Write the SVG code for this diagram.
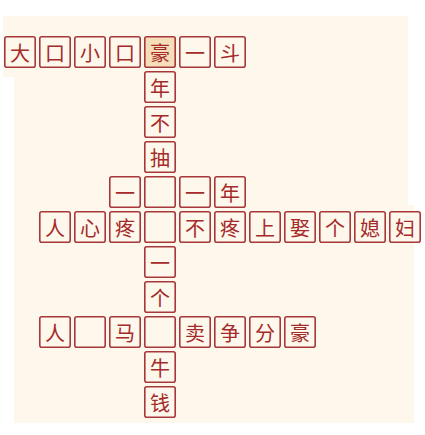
<svg xmlns="http://www.w3.org/2000/svg" width="425" height="435" viewBox="0 0 425 435">
<style>
.c rect{fill:#FEF8EC;stroke:#A8373A;stroke-width:1.6}
.c.hl rect{fill:#F6DFB8}
.c text{font-family:"Noto Sans CJK SC","Noto Sans CJK TC",sans-serif;font-size:20px;fill:#A52A2A;text-anchor:middle;dominant-baseline:central}
</style>
<rect width="425" height="435" fill="#ffffff"/>
<path d="M3 16H408V205H414V423H14V77H3Z" fill="#FEF7EB"/>
<g id="connectors"></g>
<g id="cells">
<g id="r1c1" class="c" transform="translate(4,36)"><rect x="0.8" y="0.8" width="30.4" height="30.4" rx="2"/><text x="16" y="16">大</text></g>
<g id="r1c2" class="c" transform="translate(39,36)"><rect x="0.8" y="0.8" width="30.4" height="30.4" rx="2"/><text x="16" y="16">口</text></g>
<g id="r1c3" class="c" transform="translate(74,36)"><rect x="0.8" y="0.8" width="30.4" height="30.4" rx="2"/><text x="16" y="16">小</text></g>
<g id="r1c4" class="c" transform="translate(109,36)"><rect x="0.8" y="0.8" width="30.4" height="30.4" rx="2"/><text x="16" y="16">口</text></g>
<g id="r1c5" class="c hl" transform="translate(144,36)"><rect x="0.8" y="0.8" width="30.4" height="30.4" rx="2"/><text x="16" y="16">豪</text></g>
<g id="r1c6" class="c" transform="translate(179,36)"><rect x="0.8" y="0.8" width="30.4" height="30.4" rx="2"/><text x="16" y="16">一</text></g>
<g id="r1c7" class="c" transform="translate(214,36)"><rect x="0.8" y="0.8" width="30.4" height="30.4" rx="2"/><text x="16" y="16">斗</text></g>

<g id="r2" class="c" transform="translate(144,71)"><rect x="0.8" y="0.8" width="30.4" height="30.4" rx="2"/><text x="16" y="16">年</text></g>
<g id="r3" class="c" transform="translate(144,106)"><rect x="0.8" y="0.8" width="30.4" height="30.4" rx="2"/><text x="16" y="16">不</text></g>
<g id="r4" class="c" transform="translate(144,141)"><rect x="0.8" y="0.8" width="30.4" height="30.4" rx="2"/><text x="16" y="16">抽</text></g>

<g id="r5c4" class="c" transform="translate(109,176)"><rect x="0.8" y="0.8" width="30.4" height="30.4" rx="2"/><text x="16" y="16">一</text></g>
<g id="r5c5" class="c" transform="translate(144,176)"><rect x="0.8" y="0.8" width="30.4" height="30.4" rx="2"/></g>
<g id="r5c6" class="c" transform="translate(179,176)"><rect x="0.8" y="0.8" width="30.4" height="30.4" rx="2"/><text x="16" y="16">一</text></g>
<g id="r5c7" class="c" transform="translate(214,176)"><rect x="0.8" y="0.8" width="30.4" height="30.4" rx="2"/><text x="16" y="16">年</text></g>

<g id="r6c2" class="c" transform="translate(39,211)"><rect x="0.8" y="0.8" width="30.4" height="30.4" rx="2"/><text x="16" y="16">人</text></g>
<g id="r6c3" class="c" transform="translate(74,211)"><rect x="0.8" y="0.8" width="30.4" height="30.4" rx="2"/><text x="16" y="16">心</text></g>
<g id="r6c4" class="c" transform="translate(109,211)"><rect x="0.8" y="0.8" width="30.4" height="30.4" rx="2"/><text x="16" y="16">疼</text></g>
<g id="r6c5" class="c" transform="translate(144,211)"><rect x="0.8" y="0.8" width="30.4" height="30.4" rx="2"/></g>
<g id="r6c6" class="c" transform="translate(179,211)"><rect x="0.8" y="0.8" width="30.4" height="30.4" rx="2"/><text x="16" y="16">不</text></g>
<g id="r6c7" class="c" transform="translate(214,211)"><rect x="0.8" y="0.8" width="30.4" height="30.4" rx="2"/><text x="16" y="16">疼</text></g>
<g id="r6c8" class="c" transform="translate(249,211)"><rect x="0.8" y="0.8" width="30.4" height="30.4" rx="2"/><text x="16" y="16">上</text></g>
<g id="r6c9" class="c" transform="translate(284,211)"><rect x="0.8" y="0.8" width="30.4" height="30.4" rx="2"/><text x="16" y="16">娶</text></g>
<g id="r6c10" class="c" transform="translate(319,211)"><rect x="0.8" y="0.8" width="30.4" height="30.4" rx="2"/><text x="16" y="16">个</text></g>
<g id="r6c11" class="c" transform="translate(354,211)"><rect x="0.8" y="0.8" width="30.4" height="30.4" rx="2"/><text x="16" y="16">媳</text></g>
<g id="r6c12" class="c" transform="translate(389,211)"><rect x="0.8" y="0.8" width="30.4" height="30.4" rx="2"/><text x="16" y="16">妇</text></g>

<g id="r7" class="c" transform="translate(144,246)"><rect x="0.8" y="0.8" width="30.4" height="30.4" rx="2"/><text x="16" y="16">一</text></g>
<g id="r8" class="c" transform="translate(144,281)"><rect x="0.8" y="0.8" width="30.4" height="30.4" rx="2"/><text x="16" y="16">个</text></g>

<g id="r9c2" class="c" transform="translate(39,316)"><rect x="0.8" y="0.8" width="30.4" height="30.4" rx="2"/><text x="16" y="16">人</text></g>
<g id="r9c3" class="c" transform="translate(74,316)"><rect x="0.8" y="0.8" width="30.4" height="30.4" rx="2"/></g>
<g id="r9c4" class="c" transform="translate(109,316)"><rect x="0.8" y="0.8" width="30.4" height="30.4" rx="2"/><text x="16" y="16">马</text></g>
<g id="r9c5" class="c" transform="translate(144,316)"><rect x="0.8" y="0.8" width="30.4" height="30.4" rx="2"/></g>
<g id="r9c6" class="c" transform="translate(179,316)"><rect x="0.8" y="0.8" width="30.4" height="30.4" rx="2"/><text x="16" y="16">卖</text></g>
<g id="r9c7" class="c" transform="translate(214,316)"><rect x="0.8" y="0.8" width="30.4" height="30.4" rx="2"/><text x="16" y="16">争</text></g>
<g id="r9c8" class="c" transform="translate(249,316)"><rect x="0.8" y="0.8" width="30.4" height="30.4" rx="2"/><text x="16" y="16">分</text></g>
<g id="r9c9" class="c" transform="translate(284,316)"><rect x="0.8" y="0.8" width="30.4" height="30.4" rx="2"/><text x="16" y="16">豪</text></g>

<g id="r10" class="c" transform="translate(144,351)"><rect x="0.8" y="0.8" width="30.4" height="30.4" rx="2"/><text x="16" y="16">牛</text></g>
<g id="r11" class="c" transform="translate(144,386)"><rect x="0.8" y="0.8" width="30.4" height="30.4" rx="2"/><text x="16" y="16">钱</text></g>
</g>
</svg>
